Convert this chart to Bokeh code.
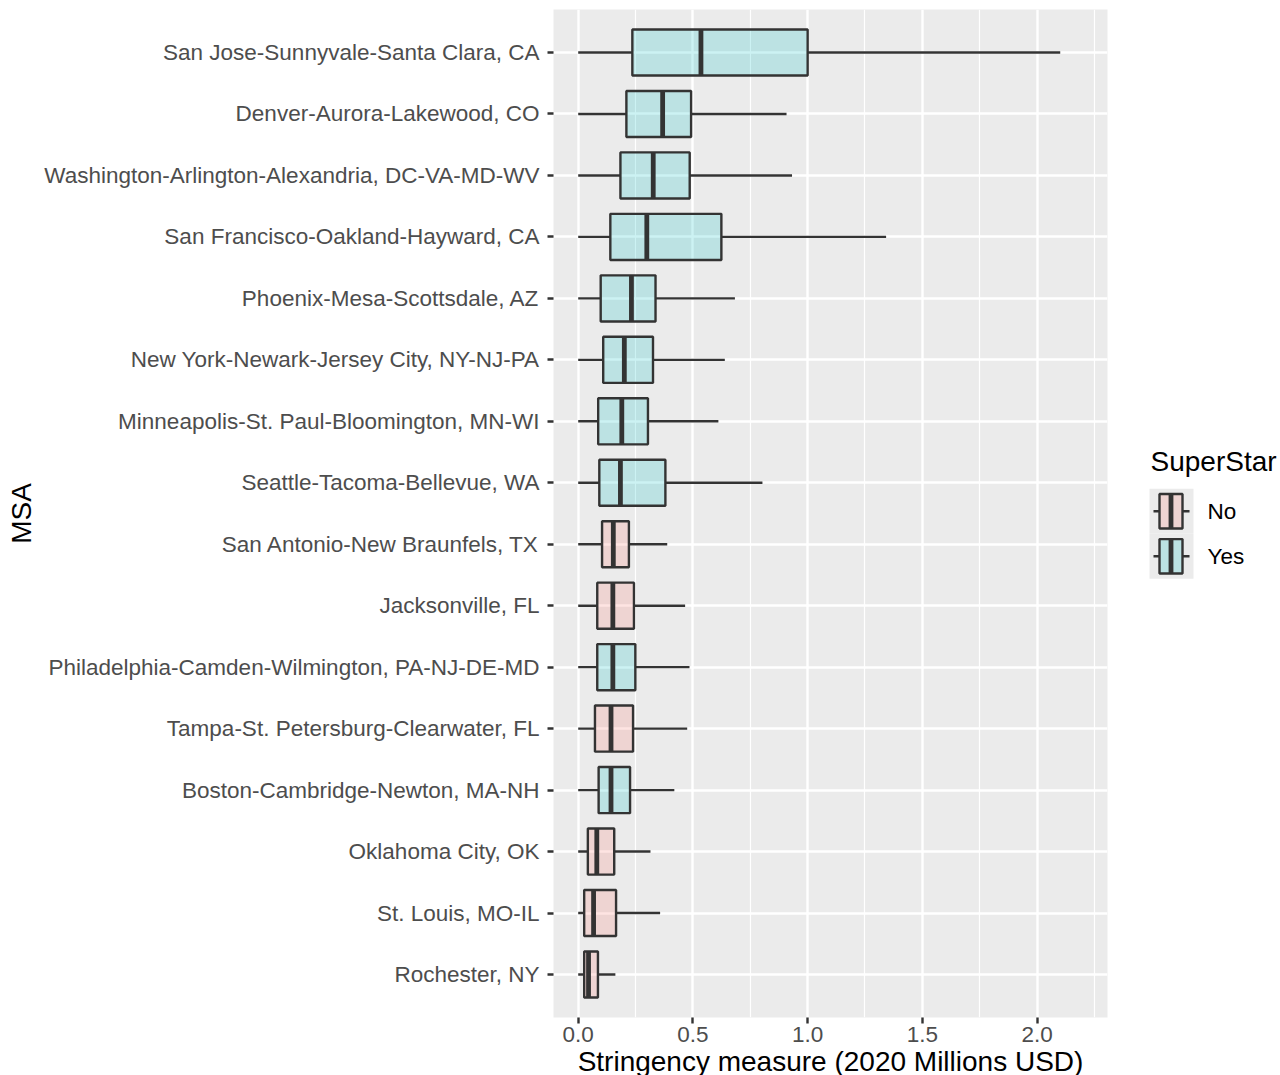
from bokeh.plotting import figure
from bokeh.models import Range1d, FactorRange, FixedTicker, NumeralTickFormatter, ColumnDataSource
from bokeh.layouts import row, column
from bokeh.embed import file_html
from bokeh.resources import INLINE
from bokeh.core.properties import value

# ---------------- data (top to bottom, as drawn) ----------------
msa = [
    "San Jose-Sunnyvale-Santa Clara, CA",
    "Denver-Aurora-Lakewood, CO",
    "Washington-Arlington-Alexandria, DC-VA-MD-WV",
    "San Francisco-Oakland-Hayward, CA",
    "Phoenix-Mesa-Scottsdale, AZ",
    "New York-Newark-Jersey City, NY-NJ-PA",
    "Minneapolis-St. Paul-Bloomington, MN-WI",
    "Seattle-Tacoma-Bellevue, WA",
    "San Antonio-New Braunfels, TX",
    "Jacksonville, FL",
    "Philadelphia-Camden-Wilmington, PA-NJ-DE-MD",
    "Tampa-St. Petersburg-Clearwater, FL",
    "Boston-Cambridge-Newton, MA-NH",
    "Oklahoma City, OK",
    "St. Louis, MO-IL",
    "Rochester, NY",
]
superstar = ["Yes", "Yes", "Yes", "Yes", "Yes", "Yes", "Yes", "Yes",
             "No", "No", "Yes", "No", "Yes", "No", "No", "No"]
lower = [0.0, 0.0, 0.0, 0.0, 0.0, 0.0, 0.0, 0.0, 0.0, 0.0, 0.0, 0.0, 0.0, 0.0, 0.0, 0.0]
q1 = [0.236, 0.210, 0.184, 0.140, 0.098, 0.109, 0.087, 0.092, 0.104, 0.083, 0.083, 0.073, 0.089, 0.042, 0.026, 0.026]
median = [0.535, 0.368, 0.327, 0.299, 0.232, 0.201, 0.190, 0.184, 0.153, 0.151, 0.151, 0.143, 0.143, 0.081, 0.067, 0.045]
q3 = [1.000, 0.492, 0.486, 0.624, 0.337, 0.326, 0.304, 0.380, 0.221, 0.243, 0.249, 0.239, 0.226, 0.157, 0.165, 0.086]
upper = [2.101, 0.908, 0.932, 1.342, 0.683, 0.639, 0.611, 0.803, 0.388, 0.466, 0.485, 0.475, 0.419, 0.315, 0.357, 0.162]

x_ticks = [0.0, 0.5, 1.0, 1.5, 2.0]
x_minor_ticks = [0.25, 0.75, 1.25, 1.75, 2.25]
groups = ["No", "Yes"]
group_colors = {"No": "#F8766D", "Yes": "#00BFC4"}

x_title = "Stringency measure (2020 Millions USD)"
y_title = "MSA"
legend_title = "SuperStar"

# ---------------- style ----------------
FONT = "Liberation Sans"
EDGE = "#333333"
PANEL = "#EBEBEB"
LINE_W = 2.4
X_LO, X_HI = -0.1077, 2.307
MAIN_W, MAIN_H = 1130, 1048
LEG_W = 148
TITLE_H = 27
FRAME_TOP, FRAME_BOTTOM = 15, 1010   # page pixels of the panel (legend uses this pixel space)

src = ColumnDataSource(dict(
    msa=msa, lower=lower, q1=q1, median=median, q3=q3, upper=upper,
    color=[group_colors[s] for s in superstar],
))

p = figure(
    width=MAIN_W, height=MAIN_H,
    y_range=FactorRange(factors=msa[::-1], range_padding=0.2, range_padding_units="absolute"),
    x_range=Range1d(X_LO, X_HI),
    output_backend="svg", toolbar_location=None,
    min_border_left=553, min_border_right=23, min_border_top=9, min_border_bottom=31,
)
p.background_fill_color = PANEL
p.border_fill_color = "white"
p.outline_line_color = None

ticker = FixedTicker(ticks=x_ticks, minor_ticks=x_minor_ticks)
p.xaxis.ticker = ticker
p.xgrid.ticker = ticker
p.xaxis.formatter = NumeralTickFormatter(format="0.0")

p.xgrid.grid_line_color = "white"
p.xgrid.grid_line_width = LINE_W
p.xgrid.minor_grid_line_color = "white"
p.xgrid.minor_grid_line_width = 1.2
p.ygrid.grid_line_color = "white"
p.ygrid.grid_line_width = LINE_W

for ax in p.axis:
    ax.axis_line_color = None
    ax.major_tick_line_color = EDGE
    ax.major_tick_line_width = LINE_W
    ax.major_tick_out = 6
    ax.major_tick_in = 0
    ax.minor_tick_line_color = None
    ax.major_label_text_font = FONT
    ax.major_label_text_font_size = "22.5px"
    ax.major_label_text_color = "#4D4D4D"
    ax.axis_label_text_font = FONT
    ax.axis_label_text_font_size = "28px"
    ax.axis_label_text_font_style = "normal"
    ax.axis_label_text_color = "black"

p.xaxis.major_label_standoff = 3
p.yaxis.major_label_standoff = 8
p.yaxis.axis_label = y_title
p.yaxis.axis_label_standoff = 4

# whiskers
p.segment(x0="lower", x1="q1", y0="msa", y1="msa", source=src, line_color=EDGE, line_width=LINE_W)
p.segment(x0="q3", x1="upper", y0="msa", y1="msa", source=src, line_color=EDGE, line_width=LINE_W)
# boxes
p.hbar(y="msa", left="q1", right="q3", height=0.75, source=src,
       fill_color="color", fill_alpha=0.2, line_color=EDGE, line_width=LINE_W)
# medians
p.rect(x="median", y="msa", width=4.8, width_units="screen", height=0.75, source=src,
       fill_color=EDGE, line_color=None)

# ---------------- legend (separate small figure; its frame aligns with the panel) ----------------
lg = figure(width=LEG_W, height=MAIN_H, x_range=Range1d(0, LEG_W),
            y_range=Range1d(FRAME_BOTTOM, FRAME_TOP),
            output_backend="svg", toolbar_location=None,
            x_axis_type=None, y_axis_type=None, min_border=0)
lg.outline_line_color = None
lg.background_fill_color = "white"
lg.border_fill_color = "white"

key_left, key_w, key_top, key_h = 19, 44, 488, 44.5
box_l, box_r, box_h = key_left + 10, key_left + 33, 34
wh_l, wh_r = key_left + 4, key_left + 40

key_y = [key_top + key_h * (i + 0.5) for i in range(len(groups))]
lsrc = ColumnDataSource(dict(
    y=key_y, label=groups, color=[group_colors[g] for g in groups],
))
lg.rect(x=key_left + key_w / 2, y="y", width=key_w, height=key_h, source=lsrc,
        fill_color=PANEL, line_color=None)
lg.segment(x0=wh_l, x1=box_l, y0="y", y1="y", source=lsrc, line_color=EDGE, line_width=LINE_W)
lg.segment(x0=box_r, x1=wh_r, y0="y", y1="y", source=lsrc, line_color=EDGE, line_width=LINE_W)
lg.hbar(y="y", left=box_l, right=box_r, height=box_h, source=lsrc,
        fill_color="color", fill_alpha=0.2, line_color=EDGE, line_width=LINE_W)
lg.rect(x=(box_l + box_r) / 2, y="y", width=4.8, height=box_h, source=lsrc,
        fill_color=EDGE, line_color=None)
lg.text(x=key_left + key_w + 14, y="y", text="label", source=lsrc, text_font=value(FONT),
        text_font_size=value("22.5px"), text_baseline="middle", text_align="left",
        text_color="black")
lg.text(x=[key_left + 1], y=[461], text=[legend_title], text_font=value(FONT),
        text_font_size=value("28px"), text_baseline="middle", text_align="left",
        text_color="black")

# ---------------- x-axis title strip (frame spans the panel's width) ----------------
tf = figure(width=MAIN_W + LEG_W, height=TITLE_H, x_range=Range1d(0, 1), y_range=Range1d(TITLE_H, 0),
            output_backend="svg", toolbar_location=None,
            x_axis_type=None, y_axis_type=None,
            min_border_left=553, min_border_right=MAIN_W + LEG_W - 1107,
            min_border_top=0, min_border_bottom=0)
tf.outline_line_color = None
tf.background_fill_color = "white"
tf.border_fill_color = "white"
tf.text(x=[0.5], y=[12.5], text=[x_title], text_font=value(FONT),
        text_font_size=value("28px"), text_baseline="middle", text_align="center",
        text_color="black")

layout = column(row(p, lg), tf)
open("out.html", "w").write(file_html(layout, INLINE))
